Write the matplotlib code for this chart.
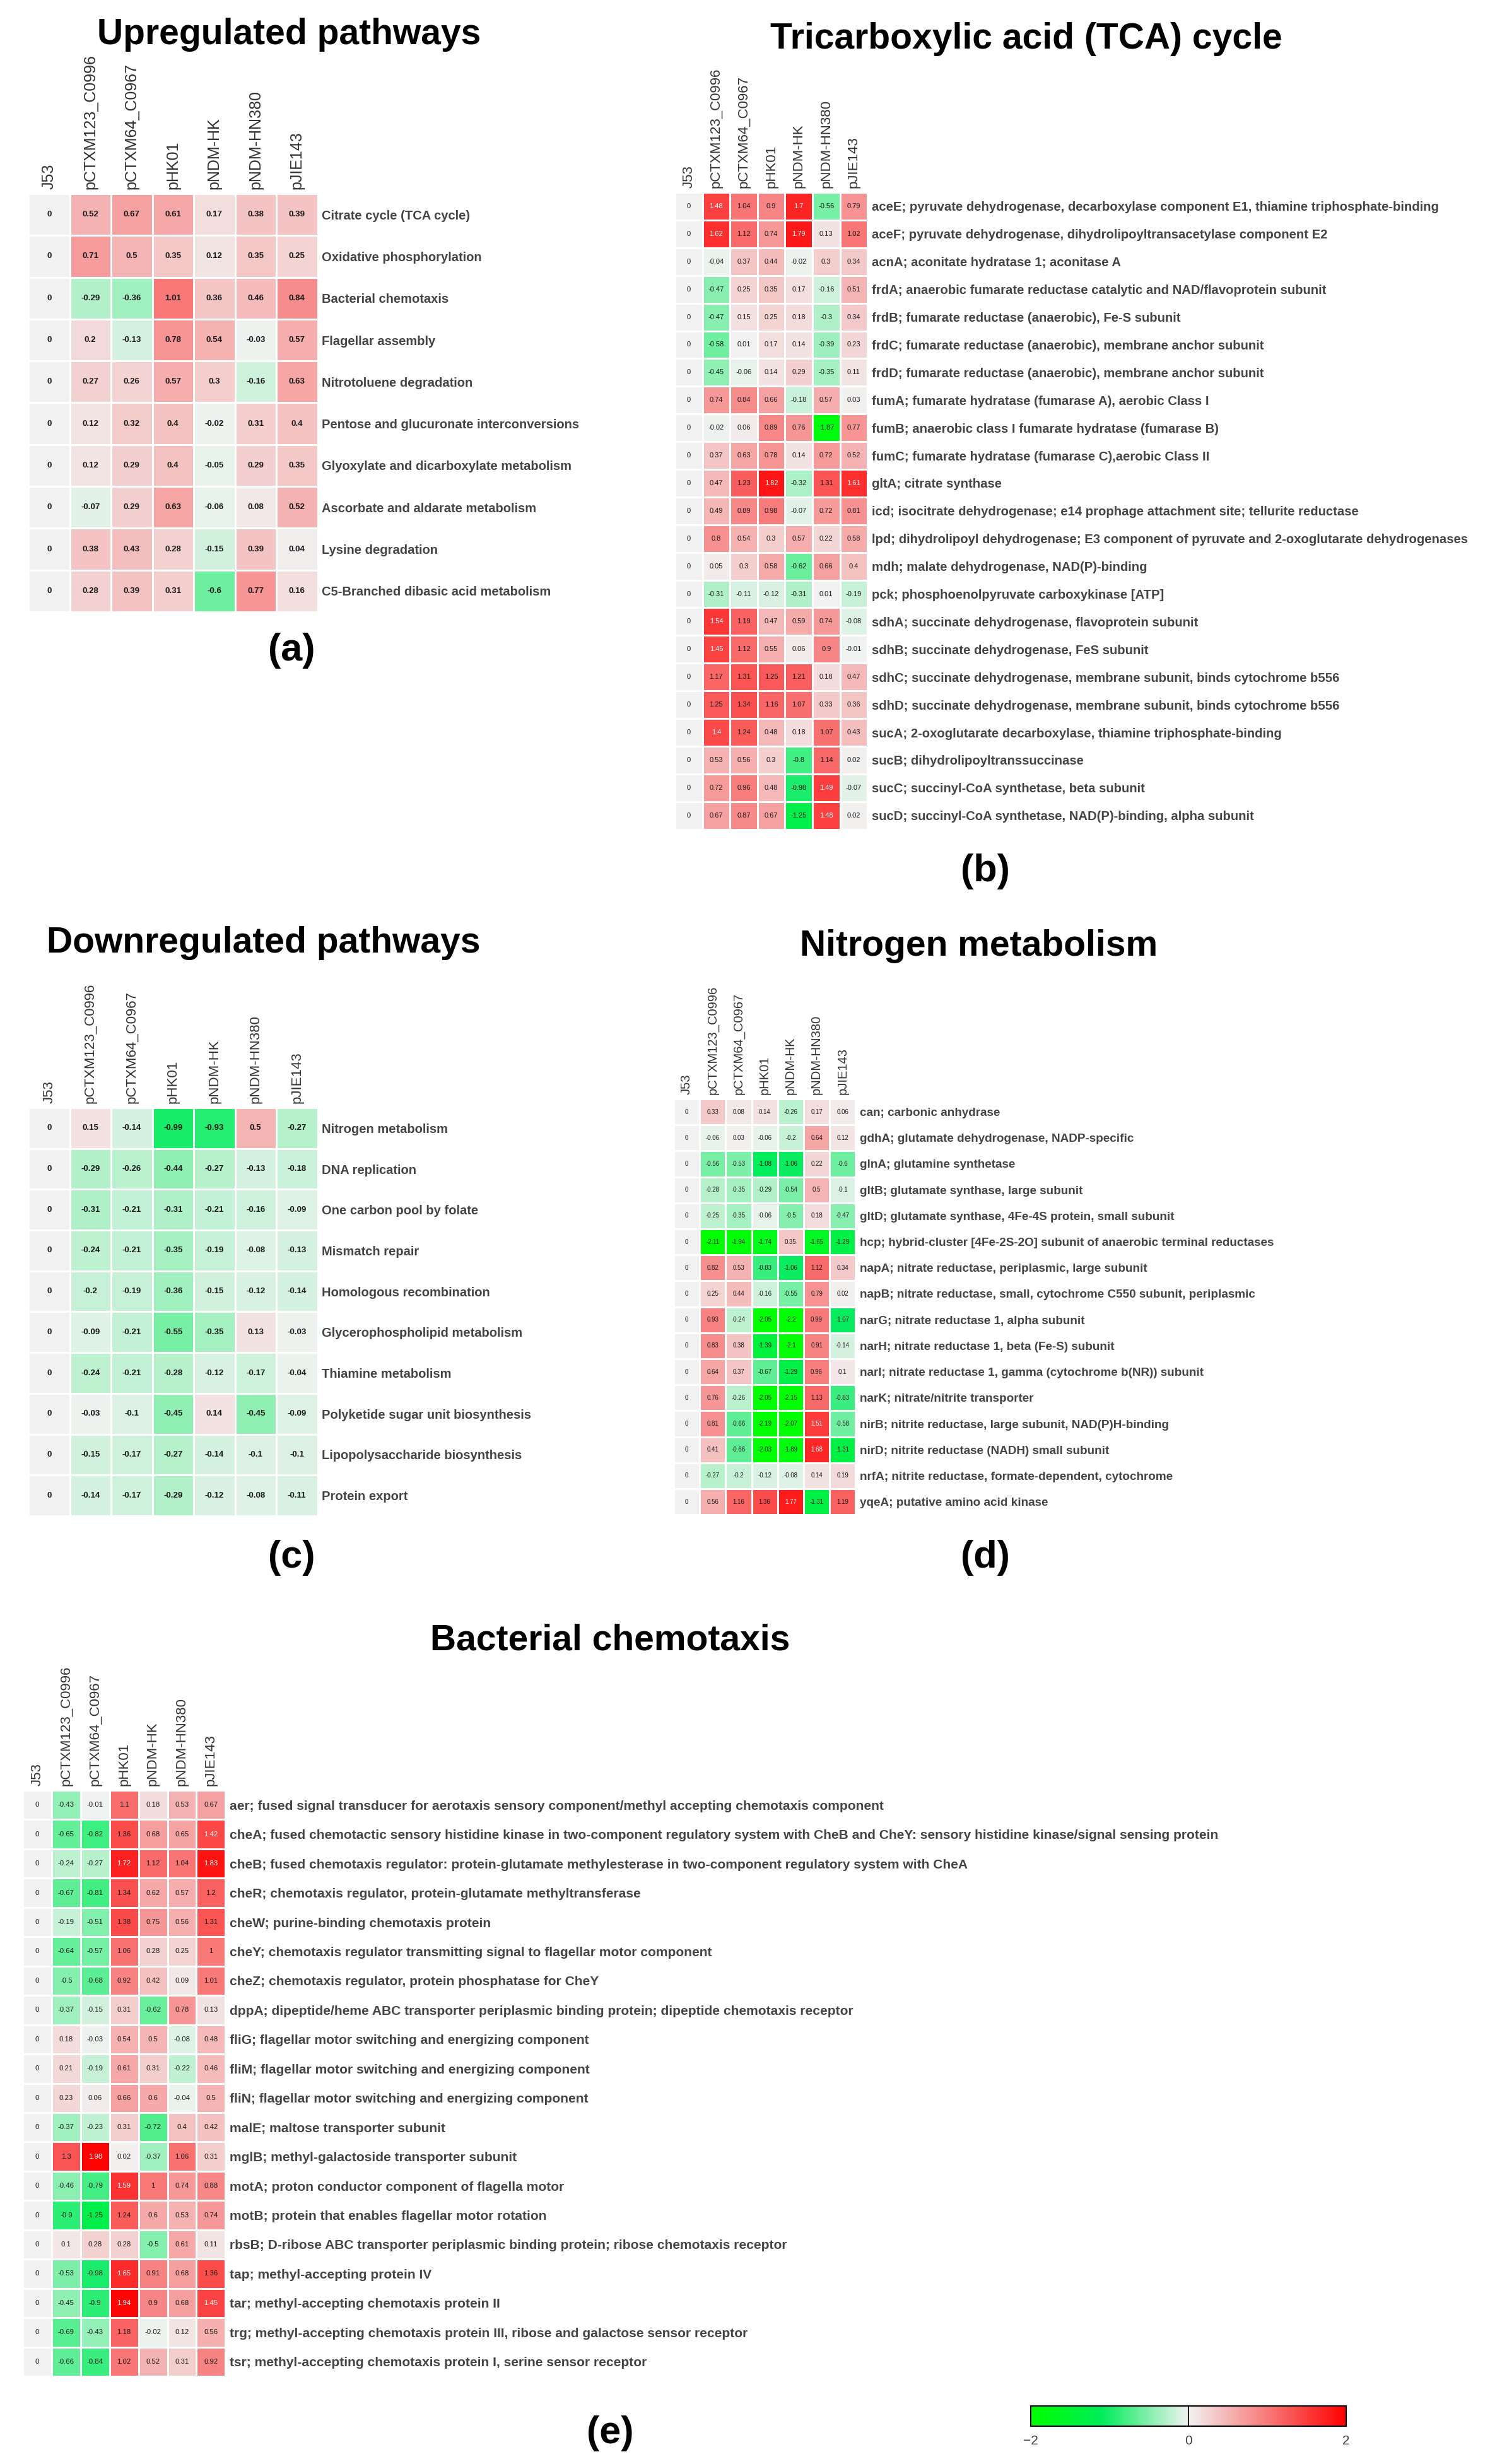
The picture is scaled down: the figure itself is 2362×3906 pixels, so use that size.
import numpy as np
import matplotlib.pyplot as plt
from matplotlib.colors import LinearSegmentedColormap
from matplotlib.cm import ScalarMappable
from matplotlib.colors import Normalize

plt.rcParams['font.family'] = ['Liberation Sans', 'DejaVu Sans']

# canvas in pixels (dpi 100)
W, H = 2362, 3906

cols = ['J53', 'pCTXM123_C0996', 'pCTXM64_C0967', 'pHK01', 'pNDM-HK', 'pNDM-HN380', 'pJIE143']

# (a) upregulated pathways
up_rows = ['Citrate cycle (TCA cycle)', 'Oxidative phosphorylation', 'Bacterial chemotaxis',
           'Flagellar assembly', 'Nitrotoluene degradation', 'Pentose and glucuronate interconversions',
           'Glyoxylate and dicarboxylate metabolism', 'Ascorbate and aldarate metabolism',
           'Lysine degradation', 'C5-Branched dibasic acid metabolism']
up_vals = [
    [0, 0.52, 0.67, 0.61, 0.17, 0.38, 0.39],
    [0, 0.71, 0.5, 0.35, 0.12, 0.35, 0.25],
    [0, -0.29, -0.36, 1.01, 0.36, 0.46, 0.84],
    [0, 0.2, -0.13, 0.78, 0.54, -0.03, 0.57],
    [0, 0.27, 0.26, 0.57, 0.3, -0.16, 0.63],
    [0, 0.12, 0.32, 0.4, -0.02, 0.31, 0.4],
    [0, 0.12, 0.29, 0.4, -0.05, 0.29, 0.35],
    [0, -0.07, 0.29, 0.63, -0.06, 0.08, 0.52],
    [0, 0.38, 0.43, 0.28, -0.15, 0.39, 0.04],
    [0, 0.28, 0.39, 0.31, -0.6, 0.77, 0.16],
]

# (b) TCA cycle genes
tca_rows = [
    'aceE; pyruvate dehydrogenase, decarboxylase component E1, thiamine triphosphate-binding',
    'aceF; pyruvate dehydrogenase, dihydrolipoyltransacetylase component E2',
    'acnA; aconitate hydratase 1; aconitase A',
    'frdA; anaerobic fumarate reductase catalytic and NAD/flavoprotein subunit',
    'frdB; fumarate reductase (anaerobic), Fe-S subunit',
    'frdC; fumarate reductase (anaerobic), membrane anchor subunit',
    'frdD; fumarate reductase (anaerobic), membrane anchor subunit',
    'fumA; fumarate hydratase (fumarase A), aerobic Class I',
    'fumB; anaerobic class I fumarate hydratase (fumarase B)',
    'fumC; fumarate hydratase (fumarase C),aerobic Class II',
    'gltA; citrate synthase',
    'icd; isocitrate dehydrogenase; e14 prophage attachment site; tellurite reductase',
    'lpd; dihydrolipoyl dehydrogenase; E3 component of pyruvate and 2-oxoglutarate dehydrogenases',
    'mdh; malate dehydrogenase, NAD(P)-binding',
    'pck; phosphoenolpyruvate carboxykinase [ATP]',
    'sdhA; succinate dehydrogenase, flavoprotein subunit',
    'sdhB; succinate dehydrogenase, FeS subunit',
    'sdhC; succinate dehydrogenase, membrane subunit, binds cytochrome b556',
    'sdhD; succinate dehydrogenase, membrane subunit, binds cytochrome b556',
    'sucA; 2-oxoglutarate decarboxylase, thiamine triphosphate-binding',
    'sucB; dihydrolipoyltranssuccinase',
    'sucC; succinyl-CoA synthetase, beta subunit',
    'sucD; succinyl-CoA synthetase, NAD(P)-binding, alpha subunit',
]
tca_vals = [
    [0, 1.48, 1.04, 0.9, 1.7, -0.56, 0.79],
    [0, 1.62, 1.12, 0.74, 1.79, 0.13, 1.02],
    [0, -0.04, 0.37, 0.44, -0.02, 0.3, 0.34],
    [0, -0.47, 0.25, 0.35, 0.17, -0.16, 0.51],
    [0, -0.47, 0.15, 0.25, 0.18, -0.3, 0.34],
    [0, -0.58, 0.01, 0.17, 0.14, -0.39, 0.23],
    [0, -0.45, -0.06, 0.14, 0.29, -0.35, 0.11],
    [0, 0.74, 0.84, 0.66, -0.18, 0.57, 0.03],
    [0, -0.02, 0.06, 0.89, 0.76, -1.87, 0.77],
    [0, 0.37, 0.63, 0.78, 0.14, 0.72, 0.52],
    [0, 0.47, 1.23, 1.82, -0.32, 1.31, 1.61],
    [0, 0.49, 0.89, 0.98, -0.07, 0.72, 0.81],
    [0, 0.8, 0.54, 0.3, 0.57, 0.22, 0.58],
    [0, 0.05, 0.3, 0.58, -0.62, 0.66, 0.4],
    [0, -0.31, -0.11, -0.12, -0.31, 0.01, -0.19],
    [0, 1.54, 1.19, 0.47, 0.59, 0.74, -0.08],
    [0, 1.45, 1.12, 0.55, 0.06, 0.9, -0.01],
    [0, 1.17, 1.31, 1.25, 1.21, 0.18, 0.47],
    [0, 1.25, 1.34, 1.16, 1.07, 0.33, 0.36],
    [0, 1.4, 1.24, 0.48, 0.18, 1.07, 0.43],
    [0, 0.53, 0.56, 0.3, -0.8, 1.14, 0.02],
    [0, 0.72, 0.96, 0.48, -0.98, 1.49, -0.07],
    [0, 0.67, 0.87, 0.67, -1.25, 1.48, 0.02],
]

# (c) downregulated pathways
down_rows = ['Nitrogen metabolism', 'DNA replication', 'One carbon pool by folate', 'Mismatch repair',
             'Homologous recombination', 'Glycerophospholipid metabolism', 'Thiamine metabolism',
             'Polyketide sugar unit biosynthesis', 'Lipopolysaccharide biosynthesis', 'Protein export']
down_vals = [
    [0, 0.15, -0.14, -0.99, -0.93, 0.5, -0.27],
    [0, -0.29, -0.26, -0.44, -0.27, -0.13, -0.18],
    [0, -0.31, -0.21, -0.31, -0.21, -0.16, -0.09],
    [0, -0.24, -0.21, -0.35, -0.19, -0.08, -0.13],
    [0, -0.2, -0.19, -0.36, -0.15, -0.12, -0.14],
    [0, -0.09, -0.21, -0.55, -0.35, 0.13, -0.03],
    [0, -0.24, -0.21, -0.28, -0.12, -0.17, -0.04],
    [0, -0.03, -0.1, -0.45, 0.14, -0.45, -0.09],
    [0, -0.15, -0.17, -0.27, -0.14, -0.1, -0.1],
    [0, -0.14, -0.17, -0.29, -0.12, -0.08, -0.11],
]

# (d) nitrogen metabolism genes
nit_rows = [
    'can; carbonic anhydrase',
    'gdhA; glutamate dehydrogenase, NADP-specific',
    'glnA; glutamine synthetase',
    'gltB; glutamate synthase, large subunit',
    'gltD; glutamate synthase, 4Fe-4S protein, small subunit',
    'hcp; hybrid-cluster [4Fe-2S-2O] subunit of anaerobic terminal reductases',
    'napA; nitrate reductase, periplasmic, large subunit',
    'napB; nitrate reductase, small, cytochrome C550 subunit, periplasmic',
    'narG; nitrate reductase 1, alpha subunit',
    'narH; nitrate reductase 1, beta (Fe-S) subunit',
    'narI; nitrate reductase 1, gamma (cytochrome b(NR)) subunit',
    'narK; nitrate/nitrite transporter',
    'nirB; nitrite reductase, large subunit, NAD(P)H-binding',
    'nirD; nitrite reductase (NADH) small subunit',
    'nrfA; nitrite reductase, formate-dependent, cytochrome',
    'yqeA; putative amino acid kinase',
]
nit_vals = [
    [0, 0.33, 0.08, 0.14, -0.26, 0.17, 0.06],
    [0, -0.06, 0.03, -0.06, -0.2, 0.64, 0.12],
    [0, -0.56, -0.53, -1.08, -1.06, 0.22, -0.6],
    [0, -0.28, -0.35, -0.29, -0.54, 0.5, -0.1],
    [0, -0.25, -0.35, -0.06, -0.5, 0.18, -0.47],
    [0, -2.11, -1.94, -1.74, 0.35, -1.65, -1.29],
    [0, 0.82, 0.53, -0.83, -1.06, 1.12, 0.34],
    [0, 0.25, 0.44, -0.16, -0.55, 0.79, 0.02],
    [0, 0.93, -0.24, -2.05, -2.2, 0.99, -1.07],
    [0, 0.83, 0.38, -1.39, -2.1, 0.91, -0.14],
    [0, 0.64, 0.37, -0.67, -1.29, 0.96, 0.1],
    [0, 0.76, -0.26, -2.05, -2.15, 1.13, -0.83],
    [0, 0.81, -0.66, -2.19, -2.07, 1.51, -0.58],
    [0, 0.41, -0.66, -2.03, -1.89, 1.68, -1.31],
    [0, -0.27, -0.2, -0.12, -0.08, 0.14, 0.19],
    [0, 0.56, 1.16, 1.36, 1.77, -1.31, 1.19],
]

# (e) bacterial chemotaxis genes
chem_rows = [
    'aer; fused signal transducer for aerotaxis sensory component/methyl accepting chemotaxis component',
    'cheA; fused chemotactic sensory histidine kinase in two-component regulatory system with CheB and CheY: sensory histidine kinase/signal sensing protein',
    'cheB; fused chemotaxis regulator: protein-glutamate methylesterase in two-component regulatory system with CheA',
    'cheR; chemotaxis regulator, protein-glutamate methyltransferase',
    'cheW; purine-binding chemotaxis protein',
    'cheY; chemotaxis regulator transmitting signal to flagellar motor component',
    'cheZ; chemotaxis regulator, protein phosphatase for CheY',
    'dppA; dipeptide/heme ABC transporter periplasmic binding protein; dipeptide chemotaxis receptor',
    'fliG; flagellar motor switching and energizing component',
    'fliM; flagellar motor switching and energizing component',
    'fliN; flagellar motor switching and energizing component',
    'malE; maltose transporter subunit',
    'mglB; methyl-galactoside transporter subunit',
    'motA; proton conductor component of flagella motor',
    'motB; protein that enables flagellar motor rotation',
    'rbsB; D-ribose ABC transporter periplasmic binding protein; ribose chemotaxis receptor',
    'tap; methyl-accepting protein IV',
    'tar; methyl-accepting chemotaxis protein II',
    'trg; methyl-accepting chemotaxis protein III, ribose and galactose sensor receptor',
    'tsr; methyl-accepting chemotaxis protein I, serine sensor receptor',
]
chem_vals = [
    [0, -0.43, -0.01, 1.1, 0.18, 0.53, 0.67],
    [0, -0.65, -0.82, 1.36, 0.68, 0.65, 1.42],
    [0, -0.24, -0.27, 1.72, 1.12, 1.04, 1.83],
    [0, -0.67, -0.81, 1.34, 0.62, 0.57, 1.2],
    [0, -0.19, -0.51, 1.38, 0.75, 0.56, 1.31],
    [0, -0.64, -0.57, 1.06, 0.28, 0.25, 1],
    [0, -0.5, -0.68, 0.92, 0.42, 0.09, 1.01],
    [0, -0.37, -0.15, 0.31, -0.62, 0.78, 0.13],
    [0, 0.18, -0.03, 0.54, 0.5, -0.08, 0.48],
    [0, 0.21, -0.19, 0.61, 0.31, -0.22, 0.46],
    [0, 0.23, 0.06, 0.66, 0.6, -0.04, 0.5],
    [0, -0.37, -0.23, 0.31, -0.72, 0.4, 0.42],
    [0, 1.3, 1.98, 0.02, -0.37, 1.06, 0.31],
    [0, -0.46, -0.79, 1.59, 1, 0.74, 0.88],
    [0, -0.9, -1.25, 1.24, 0.6, 0.53, 0.74],
    [0, 0.1, 0.28, 0.28, -0.5, 0.61, 0.11],
    [0, -0.53, -0.98, 1.65, 0.91, 0.68, 1.36],
    [0, -0.45, -0.9, 1.94, 0.9, 0.68, 1.45],
    [0, -0.69, -0.43, 1.18, -0.02, 0.12, 0.56],
    [0, -0.66, -0.84, 1.02, 0.52, 0.31, 0.92],
]

# green - grey - red scale, -2 .. 2
cmap = LinearSegmentedColormap.from_list(
    'gr', [(0.0, '#00ff00'), (0.225, '#00ec5a'), (0.5, '#f2f2f2'), (1.0, '#ff0000')])

fig = plt.figure(figsize=(W / 100, H / 100), dpi=100)


def heatmap(left, top, cw, ch, rows, vals, lab_fs, val_fs, col_fs, bold_vals):
    n = len(rows)
    w, h = cw * len(cols), ch * n
    ax = fig.add_axes([left / W, 1 - (top + h) / H, w / W, h / H])
    data = np.array(vals)
    ax.pcolormesh(data, cmap=cmap, vmin=-2, vmax=2, edgecolors='white', linewidth=1)
    ax.set_xlim(0, len(cols))
    ax.set_ylim(n, 0)
    for i in range(n):
        for j in range(len(cols)):
            v = data[i, j]
            ax.text(j + 0.5, i + 0.5, f'{v:g}', ha='center', va='center', fontsize=val_fs,
                    color='white' if v >= 1.4 else '#1a1a1a',
                    fontweight='bold' if bold_vals else 'normal')
    ax.set_xticks(np.arange(len(cols)) + 0.5)
    ax.set_xticklabels(cols, rotation=90, fontsize=col_fs, color='#333333')
    ax.xaxis.tick_top()
    ax.set_yticks(np.arange(n) + 0.5)
    ax.set_yticklabels(rows, fontsize=lab_fs, fontweight='bold', color='#444444')
    ax.yaxis.tick_right()
    ax.tick_params(length=0, pad=5)
    for s in ax.spines.values():
        s.set_visible(False)
    return ax


heatmap(45, 307, 65.5, 66.3, up_rows, up_vals, 14.5, 9.5, 18, True)
heatmap(1070, 305, 43.6, 43.9, tca_rows, tca_vals, 14.6, 8, 16, False)
heatmap(45, 1756, 65.5, 64.7, down_rows, down_vals, 14.5, 9.5, 16, True)
heatmap(1068, 1742, 41.2, 41.2, nit_rows, nit_vals, 13.6, 7, 14.5, False)
heatmap(36, 2838, 45.9, 46.45, chem_rows, chem_vals, 15.1, 8.2, 16, False)


def ftext(x, y, s, size):
    fig.text(x / W, 1 - y / H, s, ha='center', va='center', fontsize=size, fontweight='bold')


ftext(458, 55, 'Upregulated pathways', 41)
ftext(1627, 62, 'Tricarboxylic acid (TCA) cycle', 41)
ftext(418, 1495, 'Downregulated pathways', 41)
ftext(1552, 1500, 'Nitrogen metabolism', 41)
ftext(967, 2600, 'Bacterial chemotaxis', 41)

ftext(462, 1032, '(a)', 44)
ftext(1562, 1382, '(b)', 44)
ftext(462, 2470, '(c)', 44)
ftext(1562, 2470, '(d)', 44)
ftext(967, 3858, '(e)', 44)

# colour key
cax = fig.add_axes([1634 / W, 1 - 3846 / H, 500 / W, 32 / H])
cb = fig.colorbar(ScalarMappable(norm=Normalize(-2, 2), cmap=cmap), cax=cax, orientation='horizontal')
cb.set_ticks([-2, 0, 2])
cb.ax.tick_params(length=0, labelsize=15, labelcolor='#444444', pad=10)
cb.outline.set_linewidth(1.5)
cax.axvline(0, color='#222222', linewidth=1.5)

plt.savefig('out.png', dpi=100)
